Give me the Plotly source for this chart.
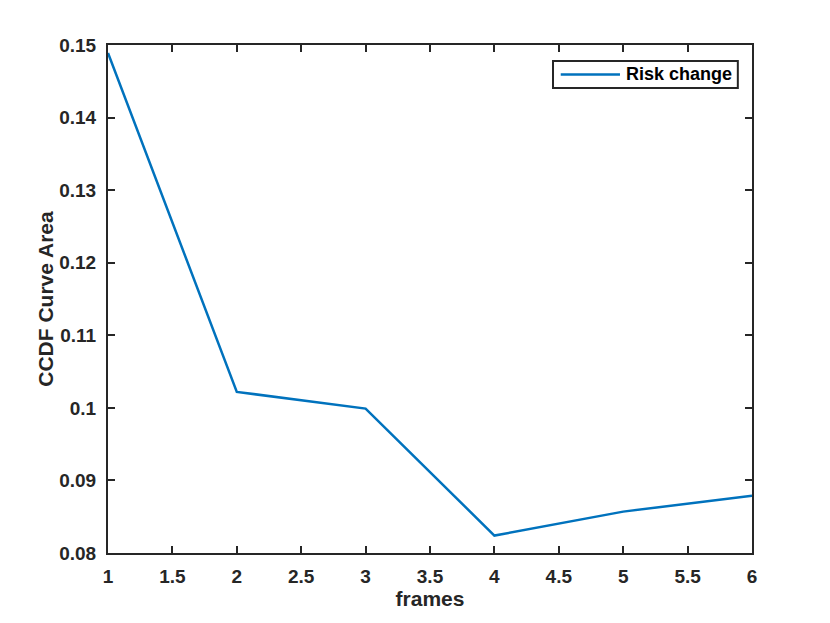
import plotly.graph_objects as go

frames = [1, 2, 3, 4, 5, 6]
ccdf_area = [0.1489, 0.1022, 0.0999, 0.0824, 0.0857, 0.0879]
series_name = "Risk change"

axis_color = "#262626"
line_color = "#0072BD"
fam = "Liberation Sans, Arial, sans-serif"
font = dict(family=fam, size=19, color=axis_color, weight="bold")
title_font = dict(family=fam, size=21, color=axis_color, weight="bold")

fig = go.Figure()
fig.add_trace(go.Scatter(x=frames, y=ccdf_area, mode="lines", name=series_name,
                         line=dict(color=line_color, width=2.5), showlegend=False))

common = dict(showgrid=False, zeroline=False, showline=True, linecolor=axis_color, linewidth=2,
              mirror="ticks", ticks="inside", ticklen=7, tickwidth=2, tickcolor=axis_color,
              tickfont=font)
fig.update_xaxes(range=[1, 6], dtick=0.5, ticklabelstandoff=5,
                 title=dict(text="frames", font=title_font, standoff=6), **common)
fig.update_yaxes(range=[0.08, 0.15], dtick=0.01, tickformat="~g", ticklabelstandoff=6,
                 title=dict(text="CCDF Curve Area", font=title_font, standoff=0), **common)

# MATLAB-style legend box
fig.add_shape(type="rect", xref="paper", yref="paper", x0=0.691, x1=0.978, y0=0.9154, y1=0.9685,
              line=dict(color=axis_color, width=2), fillcolor="white", layer="above")
fig.add_shape(type="line", xref="paper", yref="paper", x0=0.703, x1=0.795, y0=0.942, y1=0.942,
              line=dict(color=line_color, width=2.5), layer="above")
fig.add_annotation(xref="paper", yref="paper", x=0.801, y=0.942, xanchor="left", yanchor="middle",
                   text=series_name, showarrow=False,
                   font=dict(family=fam, size=18, color="black", weight="bold"))

fig.update_layout(
    width=830, height=623,
    margin=dict(l=100, r=86, t=37, b=78),
    plot_bgcolor="white", paper_bgcolor="white",
    font=font,
    showlegend=False,
)
fig.write_html("out.html")
